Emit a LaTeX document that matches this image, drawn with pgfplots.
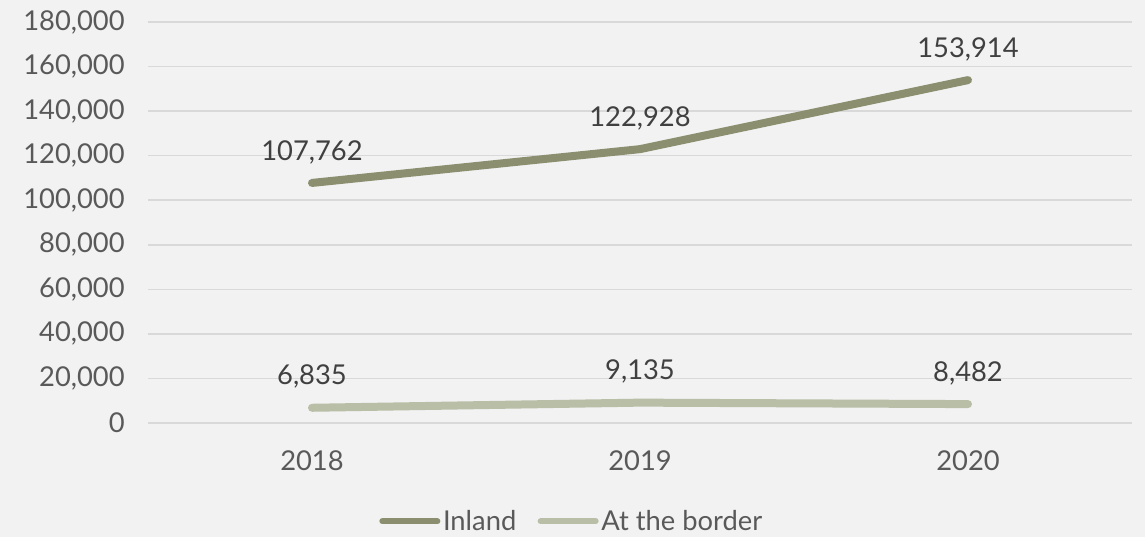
\documentclass[border=0pt]{standalone}
\usepackage{pgfplots}
\pgfplotsset{compat=1.18}
\usepackage{fontspec}
\setmainfont{Lato}
\usetikzlibrary{backgrounds}

\definecolor{bgc}{HTML}{F2F2F2}
\definecolor{gridc}{HTML}{D9D9D9}
\definecolor{txt}{HTML}{595959}
\definecolor{lbl}{HTML}{404040}
\definecolor{inland}{HTML}{8B8F6F}
\definecolor{border}{HTML}{B9BEA6}

\begin{document}
\begin{tikzpicture}
\begin{axis}[
    scale only axis,
    width=738pt, height=300.75pt,
    xmin=-0.5, xmax=2.5,
    ymin=0, ymax=180000,
    xtick={0,1,2},
    xticklabels={2018,2019,2020},
    ytick={0,20000,...,180000},
    axis line style={draw=none},
    major tick length=0pt,
    ymajorgrids,
    grid style={gridc, line width=1.1pt},
    every tick label/.append style={font=\fontsize{20.5}{22}\selectfont, text=txt},
    xticklabel style={yshift=-17pt},
    yticklabel style={xshift=-14pt},
    /pgf/number format/assume math mode=true,
    /pgf/number format/.cd, 1000 sep={,}, fixed, precision=0,
    /pgfplots/.cd,
    scaled y ticks=false,
    nodes near coords,
    every node near coord/.append style={font=\fontsize{20.5}{22}\selectfont, text=lbl, anchor=south, yshift=8pt},
    legend style={at={(0.431,-0.245)}, anchor=center, draw=none, fill=none,
        font=\fontsize{20.5}{22}\selectfont, text=txt, legend columns=2,
        /tikz/every even column/.append style={column sep=14pt}},
    legend image code/.code={\draw[#1, line width=4.5pt, line cap=round] (0cm,0cm) -- (1.45cm,0cm);},
    clip=false,
]
\addplot[inland, line width=6pt, line cap=round] coordinates {(0,107762) (1,122928) (2,153914)};
\addlegendentry{Inland}
\addplot[border, line width=6pt, line cap=round] coordinates {(0,6835) (1,9135) (2,8482)};
\addlegendentry{At the border}
\coordinate (ll) at (rel axis cs:0,0);
\coordinate (ur) at (rel axis cs:1,1);
\end{axis}
\begin{scope}[on background layer]
\fill[bgc] ([xshift=-111pt,yshift=-85.5pt]ll) rectangle ([xshift=9.75pt,yshift=16.5pt]ur);
\end{scope}
\useasboundingbox ([xshift=-111pt,yshift=-85.5pt]ll) rectangle ([xshift=9.75pt,yshift=16.5pt]ur);
\end{tikzpicture}
\end{document}
